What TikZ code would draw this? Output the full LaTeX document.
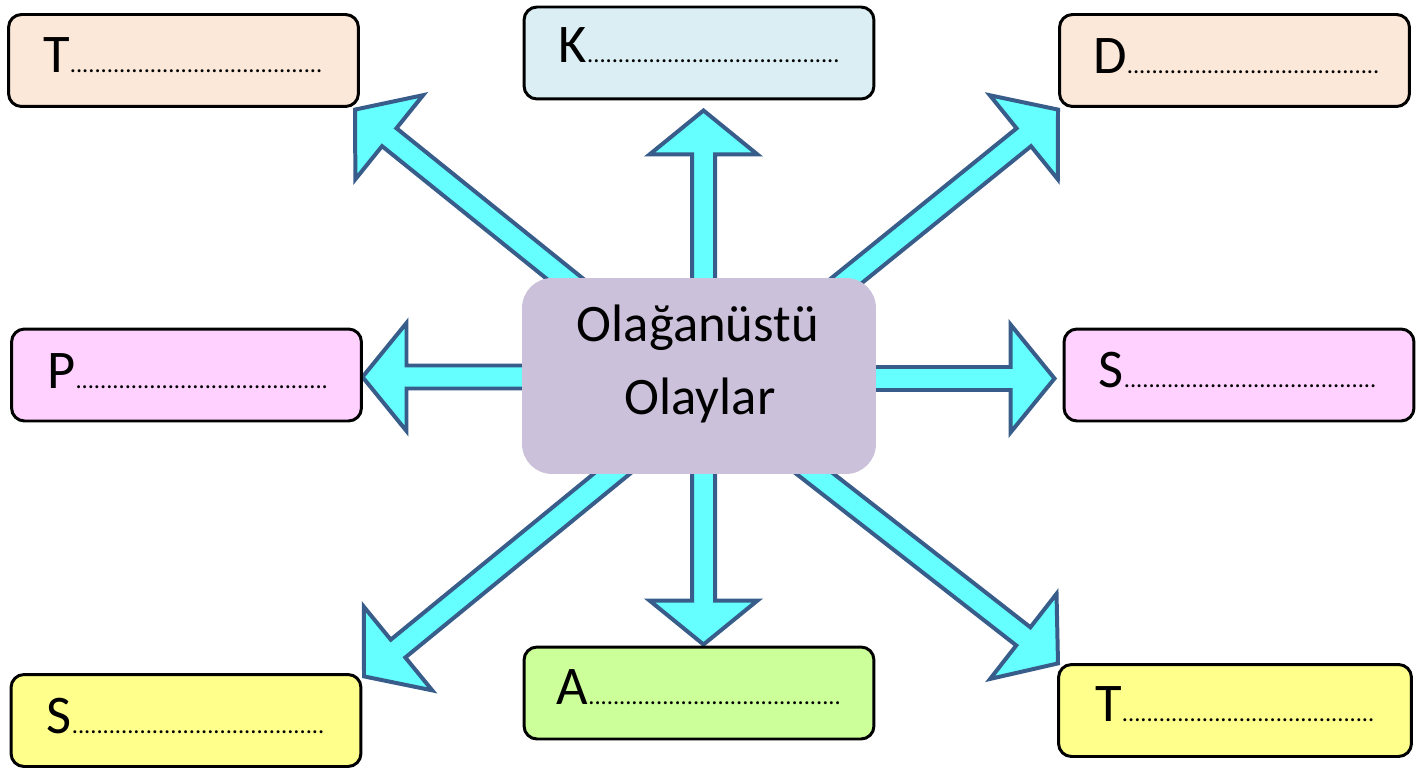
\documentclass[tikz,border=0pt]{standalone}
\usepackage{fontspec}
\setmainfont{Carlito}
\usetikzlibrary{calc}
\definecolor{peach}{HTML}{FCE8D9}
\definecolor{lblue}{HTML}{DAEEF3}
\definecolor{lpink}{HTML}{FFD1FF}
\definecolor{lyellow}{HTML}{FFFF8C}
\definecolor{lgreen}{HTML}{CCFF99}
\definecolor{lav}{HTML}{CCC1DA}
\definecolor{acyan}{HTML}{66FFFF}
\definecolor{aborder}{HTML}{385D8A}
\newcommand\blockarrow[2]{%
  \coordinate (#1-h) at ($(#2)!0.88cm!(#1)$);
  \draw[barrow] ($(#1)!0.23cm!90:(#2)$) -- ($(#1-h)!0.23cm!-90:(#1)$)
    -- ($(#1-h)!1.08cm!-90:(#1)$) -- (#2) -- ($(#1-h)!1.08cm!90:(#1)$)
    -- ($(#1-h)!0.23cm!90:(#1)$) -- ($(#1)!0.23cm!-90:(#2)$) -- cycle;}
\newcommand\dotsrow{{\fontsize{13.9pt}{14pt}\selectfont .........................................}}
\begin{document}
\begin{tikzpicture}[x=0.02cm,y=-0.02cm,
  barrow/.style={fill=acyan, draw=aborder, line width=2.27pt, line join=miter},
  lbox/.style={draw=black, line width=1.7pt, rounded corners=0.26cm, minimum width=7cm, minimum height=1.84cm, inner sep=0pt},
  lbl/.style={anchor=base west, inner sep=0pt, font=\fontsize{31pt}{36pt}\selectfont},
  ctext/.style={anchor=base, inner sep=0pt, font=\fontsize{30pt}{36pt}\selectfont},
  cbox/.style={fill=lav, rounded corners=0.6cm, minimum width=7.08cm, minimum height=3.92cm, inner sep=0pt}]
\useasboundingbox[fill=white] (0,0) rectangle (1426,770);
% arrow end points
\coordinate (su) at (703.5,300);  \coordinate (tu) at (703.5,110.5);
\coordinate (sd) at (703.5,450);  \coordinate (td) at (703.5,644.5);
\coordinate (sl) at (600,377);    \coordinate (tl) at (362.5,377);
\coordinate (sr) at (800,378.5);  \coordinate (tr) at (1054.5,378.5);
\coordinate (sul) at (600,307);   \coordinate (tul) at (355,109.6);
\coordinate (sur) at (812.7,308); \coordinate (tur) at (1058,109.6);
\coordinate (sdl) at (647,445);   \coordinate (tdl) at (364,676.4);
\coordinate (sdr) at (778,445);   \coordinate (tdr) at (1058,663.4);
\blockarrow{su}{tu}
\blockarrow{sd}{td}
\blockarrow{sl}{tl}
\blockarrow{sr}{tr}
\blockarrow{sul}{tul}
\blockarrow{sur}{tur}
\blockarrow{sdl}{tdl}
\blockarrow{sdr}{tdr}
% centre
\node[cbox] (c) at (699,376) {};
\node[ctext] (c1) at ($(c.center)+(-1,-35)$) {Olağanüstü};
\node[ctext] (c2) at ($(c.center)+(1,38)$) {Olaylar};
% boxes
\node[lbox, fill=peach]   (b1) at (183.5,60.5) {};
\node[lbox, fill=lblue]   (b2) at (699,53) {};
\node[lbox, fill=peach]   (b3) at (1234.5,60.5) {};
\node[lbox, fill=lpink]   (b4) at (186.5,375) {};
\node[lbox, fill=lpink]   (b5) at (1239,375) {};
\node[lbox, fill=lyellow] (b6) at (186,720.5) {};
\node[lbox, fill=lgreen]  (b7) at (699,693) {};
\node[lbox, fill=lyellow, minimum width=7.06cm] (b8) at (1235,710.5) {};
% labels
\node[lbl] (l1) at ($(b1.north west)+(36,59)$) {T\dotsrow};
\node[lbl] (l2) at ($(b2.north west)+(36,57)$) {K\dotsrow};
\node[lbl] (l3) at ($(b3.north west)+(35,60)$) {D\dotsrow};
\node[lbl] (l4) at ($(b4.north west)+(37,61)$) {P\dotsrow};
\node[lbl] (l5) at ($(b5.north west)+(36,60)$) {S\dotsrow};
\node[lbl] (l6) at ($(b6.north west)+(37,60)$) {S\dotsrow};
\node[lbl] (l7) at ($(b7.north west)+(34,59)$) {A\dotsrow};
\node[lbl] (l8) at ($(b8.north west)+(38,58)$) {T\dotsrow};
\end{tikzpicture}
\end{document}
